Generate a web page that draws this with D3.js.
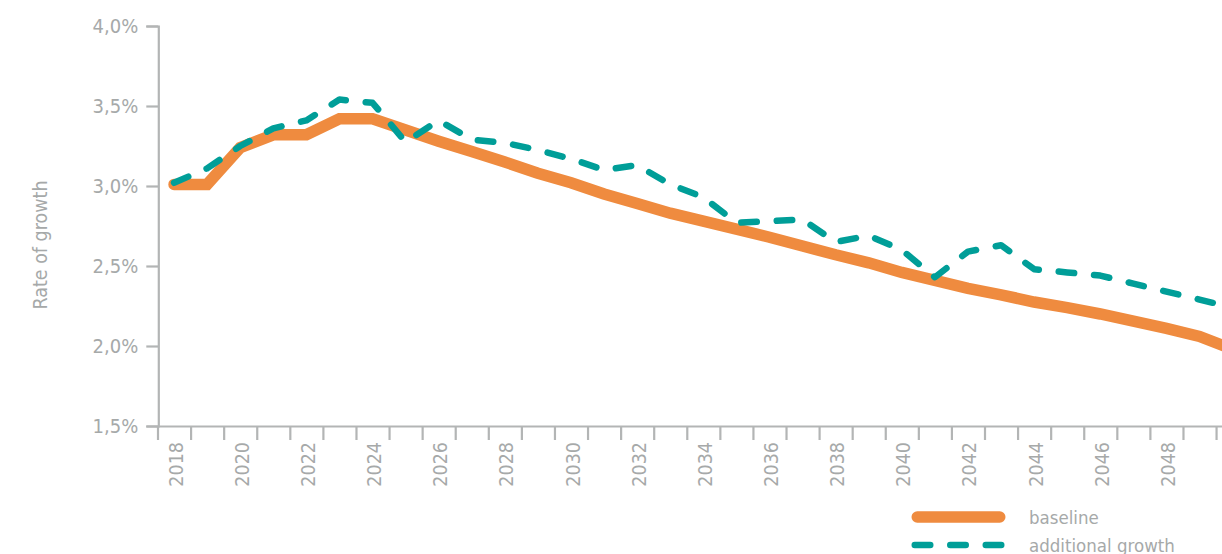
<!DOCTYPE html>
<html>
<head>
<meta charset="utf-8">
<script src="https://cdn.jsdelivr.net/npm/d3@7"></script>
<style>
  html, body { margin: 0; padding: 0; background: #ffffff; }
  svg { display: block; }
  text { font-family: "Liberation Sans Narrow", "Arial Narrow", "DejaVu Sans Condensed", sans-serif; fill: #a6a9a9; }
</style>
</head>
<body>
<svg id="chart" width="1222" height="554"></svg>
<script>
// Annual rate of growth, in percent
const years = [2018, 2019, 2020, 2021, 2022, 2023, 2024, 2025, 2026, 2027, 2028,
               2029, 2030, 2031, 2032, 2033, 2034, 2035, 2036, 2037, 2038, 2039,
               2040, 2041, 2042, 2043, 2044, 2045, 2046, 2047, 2048, 2049, 2050];
const baseline = [3.01, 3.01, 3.24, 3.32, 3.32, 3.42, 3.42, 3.35, 3.28, 3.215, 3.15,
                  3.08, 3.02, 2.95, 2.89, 2.83, 2.78, 2.73, 2.68, 2.625, 2.57, 2.52,
                  2.46, 2.41, 2.36, 2.32, 2.275, 2.24, 2.20, 2.155, 2.11, 2.06, 1.98];
const additionalGrowth = [3.02, 3.11, 3.25, 3.36, 3.41, 3.54, 3.52, 3.275, 3.41, 3.29, 3.27,
                          3.225, 3.17, 3.10, 3.13, 3.01, 2.93, 2.77, 2.78, 2.79, 2.65, 2.69,
                          2.60, 2.43, 2.59, 2.63, 2.48, 2.46, 2.44, 2.39, 2.34, 2.29, 2.24];
const yTicks = [1.5, 2.0, 2.5, 3.0, 3.5, 4.0];
const yearLabels = [2018, 2020, 2022, 2024, 2026, 2028, 2030, 2032,
                    2034, 2036, 2038, 2040, 2042, 2044, 2046, 2048];
const seriesNames = ["baseline", "additional growth"];
const axisTitle = "Rate of growth";

const ORANGE = "#ef8b3f";
const TEAL = "#009e98";
const AXIS = "#b3b5b5";

const svg = d3.select("#chart");

// one band per year; points sit in the middle of each band
const step = 33.08;
const x = d3.scaleLinear()
  .domain([2017.5, 2050.5])
  .range([157.5, 157.5 + 33 * step]);
const y = d3.scaleLinear().domain([1.5, 4.0]).range([426, 26]);
const fmt = v => d3.format(".1f")(v).replace(".", ",") + "%";

// y axis
const gy = svg.append("g")
  .attr("transform", "translate(158.3,0)")
  .call(d3.axisLeft(y).tickValues(yTicks).tickFormat(fmt).tickSize(12).tickPadding(8));
gy.select(".domain").attr("stroke", AXIS).attr("stroke-width", 2.2);
gy.selectAll(".tick line").attr("stroke", AXIS).attr("stroke-width", 2.2);
gy.selectAll(".tick text")
  .attr("font-family", null)
  .attr("font-size", 20)
  .attr("fill", "#a6a9a9");

// x axis: ticks on the band boundaries
const boundaries = years.concat([2051]).map(yr => yr - 0.5);
const gx = svg.append("g")
  .attr("transform", "translate(0,426)")
  .call(d3.axisBottom(x).tickValues(boundaries).tickFormat("").tickSize(14).tickSizeOuter(0));
gx.select(".domain").attr("stroke", AXIS).attr("stroke-width", 2.2);
gx.selectAll(".tick line").attr("stroke", AXIS).attr("stroke-width", 2.2);

// year labels, rotated, centred in their band
svg.append("g")
  .selectAll("text")
  .data(yearLabels)
  .join("text")
  .attr("transform", d => `translate(${x(d) + 1.5},442) rotate(-90)`)
  .attr("text-anchor", "end")
  .attr("dy", "0.36em")
  .attr("font-size", 19.5)
  .text(d => d);

// axis title
svg.append("text")
  .attr("transform", "translate(40,245) rotate(-90)")
  .attr("text-anchor", "middle")
  .attr("dy", "0.36em")
  .attr("font-size", 19.5)
  .attr("fill", "#b3b5b5")
  .text(axisTitle);

// series
const line = d3.line().x(d => x(d[0])).y(d => y(d[1]));

svg.append("path")
  .datum(d3.zip(years, baseline))
  .attr("d", line)
  .attr("fill", "none")
  .attr("stroke", ORANGE)
  .attr("stroke-width", 11.5)
  .attr("stroke-linecap", "round")
  .attr("stroke-linejoin", "miter");

svg.append("path")
  .datum(d3.zip(years, additionalGrowth))
  .attr("d", line)
  .attr("fill", "none")
  .attr("stroke", TEAL)
  .attr("stroke-width", 6.5)
  .attr("stroke-linecap", "round")
  .attr("stroke-linejoin", "round")
  .attr("stroke-dasharray", "15.5,20");

// legend
const legend = svg.append("g");
const legendItems = [
  { name: seriesNames[0], color: ORANGE, width: 11.5, dash: null, y: 517 },
  { name: seriesNames[1], color: TEAL, width: 6.5, dash: "15.5,20", y: 545 }
];
legendItems.forEach(it => {
  const cap = it.width / 2;
  legend.append("line")
    .attr("x1", 911.5 + cap).attr("x2", 1005.5 - cap)
    .attr("y1", it.y).attr("y2", it.y)
    .attr("stroke", it.color)
    .attr("stroke-width", it.width)
    .attr("stroke-linecap", "round")
    .attr("stroke-dasharray", it.dash);
  legend.append("text")
    .attr("x", 1029)
    .attr("y", it.y)
    .attr("dy", "0.36em")
    .attr("font-size", 18.5)
    .text(it.name);
});
</script>
</body>
</html>
